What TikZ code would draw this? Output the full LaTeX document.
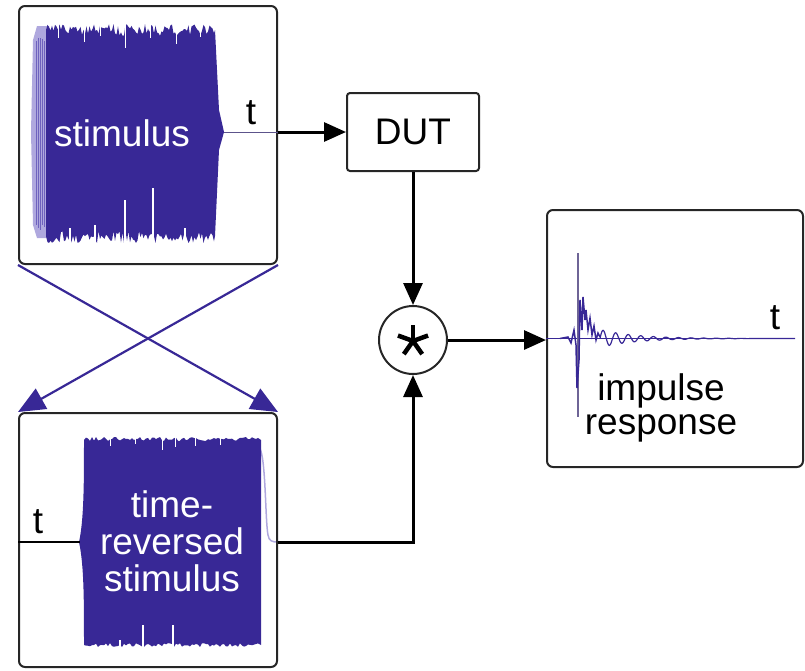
\documentclass[tikz,border=0pt]{standalone}
\usepackage{fontspec}
\setmainfont{Liberation Sans}
\usetikzlibrary{arrows.meta}
\definecolor{wave}{RGB}{56,40,150}
\definecolor{wavelt}{RGB}{175,168,222}
\definecolor{wavemid}{RGB}{110,98,190}
\definecolor{spike}{RGB}{110,100,150}
\begin{document}
\begin{tikzpicture}[x=1pt,y=-1pt,
  box/.style={draw=black!85, line width=2pt, rounded corners=6pt, inner sep=0pt},
  conn/.style={line width=3pt, -{Triangle[length=22pt,width=19pt]}},
  xconn/.style={draw=wave, line width=2.2pt, -{Triangle[length=27pt,width=23pt]}},
  lbl/.style={font=\fontsize{37}{38}\selectfont, inner sep=0pt, align=center},
]
\useasboundingbox (0,0) rectangle (805,670);
\pgfmathsetseed{11}
% ---------- stimulus waveform
\fill[wavelt] (31,132) -- (33,40) -- (37,26) -- (49,26) -- (49,238) -- (37,238) -- (33,225) -- cycle;
\foreach \x in {36,38,...,48}
  \draw[wavemid, line width=1pt] (\x,{32+10*rnd}) -- (\x,{232-10*rnd});
\fill[wave] (46,132) -- (46,30) foreach \x in {47.5,49,...,214} { -- (\x,{24+12*rnd}) } -- (215,30) -- (219,110) -- (224,132) -- (219,150) -- (215,236) foreach \x in {214,212.5,...,47.5} { -- (\x,{243-12*rnd}) } -- (46,236) -- cycle;
\foreach \x/\l in {58/38,84/42,100/36,125/48,150/38,176/44,200/37}
  \draw[white, line width=1pt] (\x,20) -- (\x,\l);
\foreach \x/\l in {70/228,95/225,125/200,153/188,185/228}
  \draw[white, line width=2pt] (\x,246) -- (\x,\l);
\coordinate (stimtip) at (224,132);
% ---------- reversed waveform
\draw[wavelt, line width=1.5pt] (258,447) .. controls (266,447) and (265,520) .. (268,535) .. controls (269,541) and (272,542) .. (278,542);
\fill[wave] (79,542) .. controls (84,520) and (84,480) .. (84,440) foreach \x in {86,88,...,258} { -- (\x,{437+4*rnd}) } -- (261,440) -- (261,645) foreach \x in {258,256,...,86} { -- (\x,{647-4*rnd}) } -- (84,645) .. controls (84,600) and (84,565) .. (79,542) -- cycle;
\foreach \x/\l in {110/446,135/444,162/450,175/447,195/446,220/445}
  \draw[white, line width=1pt] (\x,436) -- (\x,\l);
\foreach \x/\l in {143/625,173/625,120/640}
  \draw[white, line width=2pt] (\x,648) -- (\x,\l);
\coordinate (revin) at (80,542);
\coordinate (revy) at (0,542);
% ---------- nodes
\node[box, minimum width=258pt, minimum height=258pt] (stim) at (148,135) {};
\node[box, minimum width=258pt, minimum height=254pt] (rev) at (148,540) {};
\node[box, rounded corners=3pt, minimum width=132pt, minimum height=78pt] (dut) at (413,132) {};
\node[lbl] (dutl) at (dut.center) {DUT};
\node[draw=black!85, line width=2pt, circle, minimum size=68pt, inner sep=0pt] (conv) at (413,340) {};
\node[box, minimum width=256pt, minimum height=257pt] (ir) at (675,338.5) {};
% ---------- texts
\node[lbl, text=white] (stimtxt) at (122,133) {stimulus};
\node[lbl, text=white, font=\fontsize{37}{37}\selectfont] (revtxt) at (172,541) {time-\\reversed\\stimulus};
\node[lbl] (t1) at (251,113) {t};
\node[lbl] (t2) at (38,522) {t};
\node[lbl] (t3) at (775,318) {t};
\node[lbl, font=\fontsize{37}{34}\selectfont] (irtxt) at (661,408) {impulse\\response};
% ---------- star
\foreach \a in {90,160,235,305,20}
  \draw[line width=4.5pt] (conv.center) ++(0,1) -- ++(\a:16pt);
% ---------- impulse response
\draw[wave, line width=1pt] (ir.west) -- (795,338.5);
\draw[spike, line width=1.8pt] (578,253) -- (578,417);
\draw[wave, line width=1.5pt] (560,338.5) -- (568,337) -- (571,343) -- (574,330) -- (576,345) -- (577,388) -- (579,360) -- (580,300) -- (582,330) -- (583,297) -- (585,320) -- (586,310) -- (588,330) -- (590,318) -- (592,335) -- (594,326) -- (596,340) -- (598,333) -- (600,337);
\draw[wave, line width=1.2pt] plot[domain=600:795, samples=250, smooth] (\x, {338.5 - 9*exp(-(\x-600)/35)*sin(deg((\x-600)*0.5))});
% ---------- connectors
\draw[line width=0.8pt, wave!50!gray] (stimtip) -- (stim.east |- stimtip);
\draw[conn] (stim.east |- stimtip) -- (dut.west |- stimtip);
\draw[conn] (dut.south) -- (conv.north);
\draw[conn] (conv.east) -- (ir.west |- conv.east);
\draw[line width=1.5pt] (rev.west |- revin) -- (revin);
\draw[conn] (rev.east |- revy) -| (conv.south);
\draw[xconn] (stim.south west) -- (rev.north east);
\draw[xconn] (stim.south east) -- (rev.north west);
\end{tikzpicture}
\end{document}
